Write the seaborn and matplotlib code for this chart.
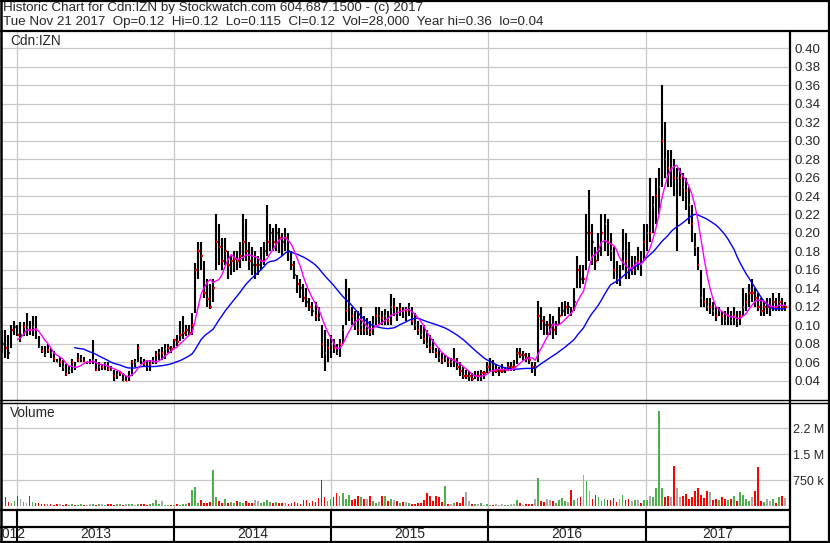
import numpy as np
import pandas as pd
import matplotlib
matplotlib.use("Agg")
import matplotlib.pyplot as plt
from matplotlib.lines import Line2D
import seaborn as sns

# weekly bars, first week = Tue Nov 27 2012, last = Tue Nov 21 2017
first_week = "2012-11-27"

week_hi = [
    .095, .095, .09, .10, .105, .10, .104, .104, .113, .105,
    .11, .11, .088, .078, .078, .08, .075, .072, .064, .066,
    .062, .058, .056, .064, .06, .07, .068, .066, .06, .064,
    .084, .064, .06, .058, .06, .06, .056, .052, .05, .05,
    .048, .045, .05, .062, .064, .08, .066, .064, .062, .062,
    .066, .072, .074, .076, .08, .08, .078, .085, .09, .105,
    .11, .10, .10, .113, .167, .19, .19, .17, .15, .145,
    .15, .22, .21, .195, .195, .18, .175, .18, .18, .19,
    .22, .215, .19, .185, .18, .175, .185, .19, .23, .21,
    .205, .21, .205, .20, .205, .20, .18, .17, .155, .15,
    .145, .14, .13, .125, .125, .12, .10, .095, .085, .09,
    .085, .08, .085, .10, .15, .14, .12, .115, .115, .12,
    .11, .108, .105, .11, .12, .12, .115, .118, .115, .134,
    .13, .12, .124, .12, .12, .124, .12, .113, .105, .10,
    .10, .095, .09, .085, .075, .075, .07, .068, .066, .065,
    .075, .065, .06, .055, .052, .05, .048, .05, .05, .052,
    .05, .06, .065, .062, .058, .055, .058, .055, .06, .06,
    .062, .075, .075, .072, .07, .07, .06, .06, .126, .12,
    .11, .105, .112, .11, .105, .12, .125, .126, .125, .12,
    .14, .175, .165, .165, .22, .247, .21, .185, .20, .22,
    .22, .215, .20, .185, .17, .165, .204, .20, .19, .175,
    .175, .185, .18, .21, .21, .26, .24, .26, .27, .36,
    .32, .29, .29, .28, .27, .27, .265, .26, .25, .23,
    .20, .185, .16, .14, .13, .13, .125, .12, .12, .115,
    .115, .12, .115, .12, .115, .115, .14, .135, .145, .15,
    .14, .135, .13, .125, .13, .13, .135, .13, .135, .13,
    .125,
]

week_lo = [
    .07, .065, .063, .075, .09, .088, .082, .088, .088, .09,
    .088, .085, .075, .07, .066, .07, .065, .06, .06, .055,
    .05, .045, .047, .048, .052, .06, .06, .06, .058, .058,
    .058, .05, .05, .052, .052, .05, .05, .04, .042, .045,
    .04, .04, .04, .045, .055, .06, .058, .055, .05, .05,
    .058, .058, .062, .062, .064, .07, .07, .075, .078, .083,
    .085, .088, .09, .09, .113, .15, .16, .13, .12, .118,
    .125, .16, .165, .16, .165, .15, .155, .158, .16, .162,
    .17, .17, .16, .155, .15, .155, .16, .165, .175, .18,
    .18, .18, .178, .175, .18, .17, .16, .15, .135, .13,
    .125, .12, .115, .11, .105, .105, .065, .05, .06, .065,
    .07, .068, .066, .08, .10, .105, .10, .095, .09, .09,
    .09, .09, .088, .09, .10, .10, .10, .10, .10, .10,
    .11, .105, .11, .108, .105, .11, .10, .095, .09, .085,
    .08, .075, .07, .07, .065, .06, .058, .06, .055, .055,
    .055, .052, .045, .042, .042, .04, .04, .042, .04, .04,
    .042, .048, .05, .045, .048, .045, .048, .048, .05, .05,
    .05, .058, .065, .062, .06, .058, .048, .045, .06, .095,
    .09, .09, .09, .085, .09, .10, .11, .11, .112, .11,
    .115, .14, .14, .145, .16, .17, .165, .16, .17, .175,
    .18, .175, .17, .15, .145, .143, .16, .15, .15, .155,
    .155, .16, .153, .17, .18, .19, .20, .21, .22, .25,
    .26, .25, .25, .24, .18, .24, .235, .225, .21, .19,
    .175, .16, .12, .12, .115, .112, .11, .105, .11, .10,
    .10, .10, .10, .10, .098, .10, .11, .115, .12, .125,
    .12, .115, .11, .11, .112, .11, .115, .115, .115, .115,
    .115,
]

week_cl = [
    .08, .075, .07, .095, .098, .09, .09, .098, .098, .095,
    .098, .096, .077, .072, .068, .073, .07, .064, .06, .06,
    .055, .047, .05, .06, .055, .062, .064, .06, .06, .06,
    .062, .052, .055, .055, .058, .053, .052, .045, .046, .048,
    .04, .04, .045, .06, .06, .075, .062, .058, .055, .058,
    .06, .068, .07, .07, .074, .075, .074, .084, .082, .09,
    .092, .095, .092, .10, .16, .18, .175, .135, .128, .12,
    .14, .19, .185, .17, .18, .165, .17, .172, .17, .175,
    .19, .18, .17, .165, .165, .165, .17, .18, .19, .20,
    .19, .20, .195, .19, .195, .18, .165, .155, .145, .14,
    .13, .125, .12, .115, .11, .108, .08, .07, .075, .08,
    .075, .07, .08, .095, .115, .12, .11, .10, .095, .10,
    .095, .095, .093, .10, .11, .11, .108, .11, .105, .12,
    .12, .115, .118, .115, .115, .12, .105, .10, .095, .09,
    .085, .08, .075, .072, .07, .065, .062, .063, .06, .06,
    .062, .055, .05, .045, .045, .045, .042, .045, .045, .048,
    .048, .055, .06, .05, .05, .05, .05, .052, .055, .055,
    .055, .07, .068, .068, .065, .062, .055, .055, .11, .105,
    .10, .10, .10, .095, .10, .11, .115, .12, .12, .115,
    .125, .16, .15, .15, .20, .20, .19, .17, .18, .20,
    .21, .19, .18, .16, .15, .15, .18, .17, .16, .16,
    .17, .17, .165, .19, .20, .20, .23, .24, .25, .30,
    .28, .27, .27, .26, .26, .26, .25, .245, .23, .21,
    .185, .165, .13, .125, .12, .12, .115, .11, .115, .11,
    .105, .11, .105, .11, .105, .11, .12, .125, .135, .135,
    .13, .12, .115, .12, .12, .12, .125, .12, .125, .12,
    .12,
]

# tallest daily volume in each week, thousands of shares
week_vol_k = [
    150, 260, 120, 100, 150, 280, 200, 120, 100, 275,
    120, 100, 80, 60, 70, 50, 60, 40, 50, 60,
    40, 50, 40, 60, 30, 40, 50, 30, 40, 60,
    50, 40, 50, 60, 40, 60, 50, 40, 50, 60,
    40, 50, 60, 70, 40, 60, 50, 60, 40, 50,
    100, 170, 60, 150, 40, 30, 30, 40, 50, 40,
    60, 50, 80, 465, 550, 100, 180, 90, 80, 120,
    1050, 260, 150, 80, 200, 100, 120, 90, 150, 110,
    100, 140, 80, 100, 180, 140, 90, 120, 170, 110,
    90, 120, 80, 100, 90, 70, 80, 130, 90, 60,
    160, 170, 90, 140, 120, 220, 755, 260, 150, 200,
    260, 380, 280, 370, 200, 330, 180, 200, 300, 260,
    200, 200, 290, 150, 100, 120, 300, 280, 150, 200,
    180, 150, 100, 120, 130, 100, 70, 60, 80, 100,
    160, 380, 300, 150, 280, 270, 120, 590, 60, 70,
    100, 120, 100, 270, 400, 150, 70, 50, 60, 90,
    40, 50, 40, 30, 50, 40, 50, 30, 40, 50,
    60, 160, 80, 40, 50, 60, 50, 200, 820, 150,
    120, 200, 180, 150, 90, 180, 230, 150, 120, 450,
    180, 220, 260, 900, 720, 420, 200, 330, 250, 150,
    200, 170, 180, 220, 130, 200, 330, 180, 200, 150,
    170, 160, 80, 170, 170, 300, 270, 510, 2730, 510,
    260, 300, 260, 1160, 530, 250, 300, 360, 190, 250,
    420, 510, 330, 230, 430, 400, 170, 200, 180, 250,
    200, 160, 200, 280, 150, 400, 330, 200, 150, 270,
    420, 1120, 150, 120, 200, 150, 200, 100, 250, 280,
    240,
]

year_names = ["2012", "2013", "2014", "2015", "2016", "2017"]
price_ticks = [0.04, 0.06, 0.08, 0.10, 0.12, 0.14, 0.16, 0.18, 0.20,
               0.22, 0.24, 0.26, 0.28, 0.30, 0.32, 0.34, 0.36, 0.38, 0.40]
vol_ticks = [750e3, 1.5e6, 2.25e6]
vol_labels = ["750 k", "1.5 M", "2.2 M"]

title_1 = "Historic Chart for Cdn:IZN by Stockwatch.com 604.687.1500 - (c) 2017"
title_2 = ("Tue Nov 21 2017  Op=0.12  Hi=0.12  Lo=0.115  Cl=0.12  "
           "Vol=28,000  Year hi=0.36  lo=0.04")

df = pd.DataFrame({"hi": week_hi, "lo": week_lo, "cl": week_cl,
                   "vol": np.array(week_vol_k) * 1000.0})
df["date"] = pd.date_range(first_week, periods=len(df), freq="7D")
df["ma_fast"] = df["cl"].rolling(6).mean()
df["ma_slow"] = df["cl"].rolling(25).mean()
chg = df["cl"].diff().fillna(0)
df["vcol"] = np.where(chg > 0, "#4cb04c", np.where(chg < 0, "#ff0000", "#a8a8a8"))

sns.set_style("white")
plt.rcParams["font.family"] = ["Liberation Sans", "DejaVu Sans"]

W, H = 830, 543
def box(x0, y0, x1, y1):
    return [x0 / W, 1 - y1 / H, (x1 - x0) / W, (y1 - y0) / H]

fig = plt.figure(figsize=(W / 100, H / 100), dpi=100)
ax_p = fig.add_axes(box(2, 31, 789, 400))
ax_v = fig.add_axes(box(2, 402, 789, 510))
ax_d = fig.add_axes(box(2, 510, 789, 541))

x0, x1 = pd.Timestamp("2012-11-26"), pd.Timestamp("2017-11-30")
years = [pd.Timestamp(f"{y}-01-01") for y in range(2013, 2018)]
grid_c = "#c8c8c8"

# price panel
for y in years:
    ax_p.axvline(y, color=grid_c, lw=0.9, zorder=0)
for t in price_ticks:
    ax_p.axhline(t, color=grid_c, lw=0.9, zorder=0)
ax_p.vlines(df["date"], df["lo"], df["hi"], color="black", lw=1.5, zorder=2)
ax_p.hlines(df["cl"], df["date"] + pd.Timedelta(days=0.5),
            df["date"] + pd.Timedelta(days=3.5), color="#ff0000", lw=1.6, zorder=3)
sns.lineplot(data=df, x="date", y="ma_slow", color="#0000ff", lw=1.0, ax=ax_p, zorder=4)
sns.lineplot(data=df, x="date", y="ma_fast", color="#ff00ff", lw=1.0, ax=ax_p, zorder=5)
ax_p.set_xlim(x0, x1)
ax_p.set_ylim(0.0191, 0.4187)
ax_p.yaxis.tick_right()
ax_p.set_yticks(price_ticks)
ax_p.set_yticklabels([f"{t:.2f}" for t in price_ticks])
ax_p.set_xticks([])
ax_p.set_xlabel("")
ax_p.set_ylabel("")
ax_p.tick_params(axis="y", length=0, pad=4, labelsize=9.6)
ax_p.text(8 / 787, 1 - 10 / 369, "Cdn:IZN", transform=ax_p.transAxes, fontsize=9.8,
          va="center", ha="left")

# volume panel
for y in years:
    ax_v.axvline(y, color=grid_c, lw=0.9, zorder=0)
for t in vol_ticks:
    ax_v.axhline(t, color=grid_c, lw=0.9, zorder=0)
ax_v.bar(df["date"], df["vol"], width=4.2, color=df["vcol"], lw=0, zorder=2)
ax_v.set_xlim(x0, x1)
ax_v.set_ylim(-115e3, 3.0e6)
ax_v.yaxis.tick_right()
ax_v.set_yticks(vol_ticks)
ax_v.set_yticklabels(vol_labels)
ax_v.set_xticks([])
ax_v.tick_params(axis="y", length=0, pad=3, labelsize=9.0)
ax_v.text(8 / 787, 1 - 11 / 108, "Volume", transform=ax_v.transAxes, fontsize=9.8,
          va="center", ha="left")

# date band
ax_d.set_xlim(x0, x1)
ax_d.set_ylim(0, 1)
ax_d.axis("off")
ax_d.vlines(years, 0, 1, color="black", lw=1.5)
edges = [x0] + years + [x1]
for name, a, b in zip(year_names, edges[:-1], edges[1:]):
    ax_d.text(a + (b - a) / 2, 0.22, name, ha="center", va="center",
              fontsize=10, clip_on=True)

for ax in (ax_p, ax_v):
    for s in ax.spines.values():
        s.set_visible(False)

# frame lines
def hline(y, xa=0, xb=W, lw=1.5):
    fig.add_artist(Line2D([xa / W, xb / W], [1 - y / H, 1 - y / H],
                          color="black", lw=lw))
def vline(x, ya, yb, lw=1.5):
    fig.add_artist(Line2D([x / W, x / W], [1 - ya / H, 1 - yb / H],
                          color="black", lw=lw))

hline(30.5, lw=1.6)
hline(400, lw=1.0)
hline(402.5, lw=1.0)
hline(510, 0, 789.5, lw=1.6)
hline(527, 0, 789.5, lw=1.6)
vline(789.5, 30.5, 542, lw=1.6)
hline(542, lw=1.6)
hline(0.7, lw=1.6)
vline(0.8, 0, H, lw=1.8)
vline(829.2, 0, H, lw=1.6)

fig.text(3 / W, 1 - 8.5 / H, title_1, fontsize=9.6, va="center", ha="left")
fig.text(3 / W, 1 - 21.5 / H, title_2, fontsize=9.6, va="center", ha="left")

fig.savefig("out.png", dpi=100)
